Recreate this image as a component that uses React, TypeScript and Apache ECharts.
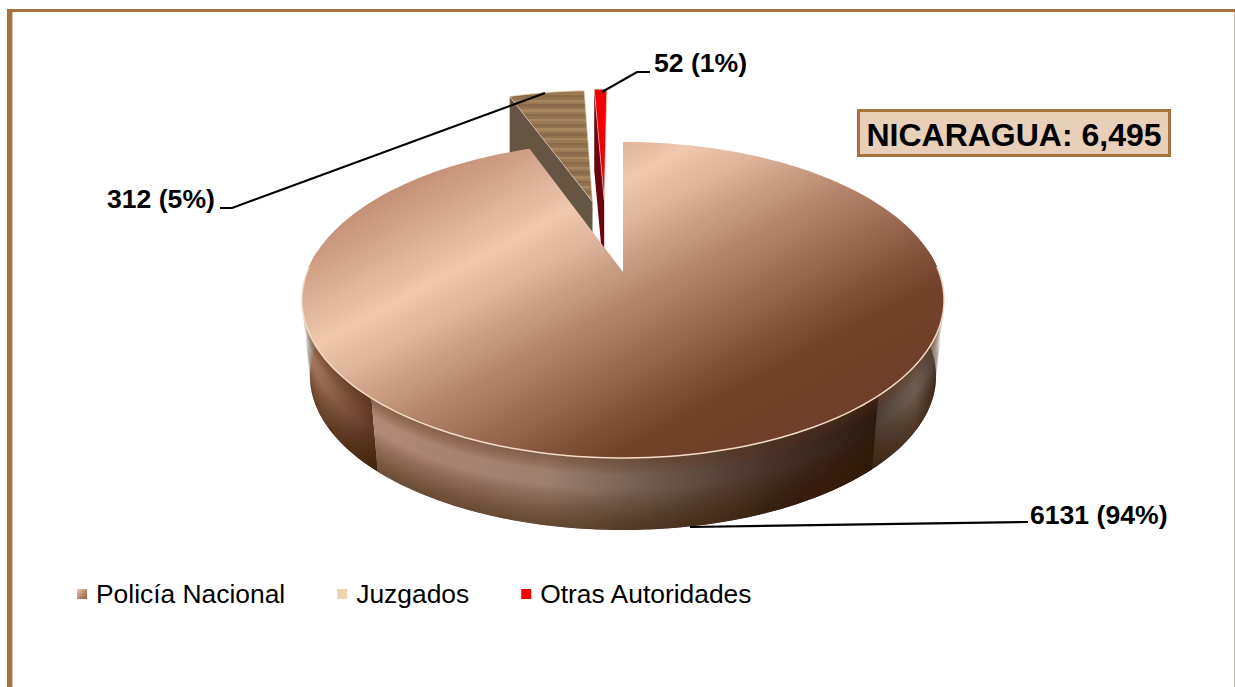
import React, { useEffect, useRef } from "react";
import * as echarts from "echarts";

const categories = ["Policía Nacional", "Juzgados", "Otras Autoridades"];
const values = [6131, 312, 52];
const percentLabels = ["94%", "5%", "1%"];
const totalLabel = "NICARAGUA";

// view geometry of the tilted pie
const CX = 623, CY = 300, PERSP = 0.177, SCALE_X = 316, SCALE_Y = 158, LIFT = 28;
const EXPLODE = [[0, 0], [-0.105, 0.5], [-0.065, 0.515]];
const BOTTOM_SCALE = 0.975, BOTTOM_SHIFT = 76;
const DEG = Math.PI / 180;

function project(u: number, v: number) {
  const w = 1 + PERSP * v;
  const X = (SCALE_X * u) / w;
  const Y = (SCALE_Y * v + LIFT) / w;
  return {
    top: [CX + X, CY - Y],
    bottom: [CX + X * BOTTOM_SCALE, CY - Y * BOTTOM_SCALE + BOTTOM_SHIFT],
  };
}
const rimPoint = (deg: number, off: number[]) =>
  project(Math.sin(deg * DEG) + off[0], Math.cos(deg * DEG) + off[1]);
function arc(a: number, b: number, off: number[], part: "top" | "bottom") {
  const n = Math.max(2, Math.ceil(Math.abs(b - a) / 1.5));
  const pts: number[][] = [];
  for (let i = 0; i <= n; i++) pts.push(rimPoint(a + ((b - a) * i) / n, off)[part]);
  return pts;
}
function spans() {
  const total = values.reduce((s, x) => s + x, 0);
  let acc = 0;
  return values.map((x) => {
    const s = [(acc / total) * 360, ((acc + x) / total) * 360];
    acc += x;
    return s;
  });
}
const G = echarts.graphic;
const linear = (x: number, y: number, x2: number, y2: number, stops: [number, string][]) =>
  new G.LinearGradient(x, y, x2, y2, stops.map(([offset, color]) => ({ offset, color })), true);

function woodStops(): [number, string][] {
  const out: [number, string][] = [];
  const tones = ["#a8865f", "#93734f", "#ad8d66", "#8a6a48", "#a3815b", "#9a7a54", "#b09069"];
  const n = 48;
  for (let i = 0; i < n; i++) {
    const c = tones[(i * 5 + (i >> 2)) % tones.length];
    out.push([i / n, c], [(i + 1) / n, c]);
  }
  return out;
}

function renderMain(_: any, __: any) {
  const [a, b] = spans()[0];
  const off = EXPLODE[0];
  const apex = project(off[0], off[1]).top;
  const wall = (from: number, to: number, fill: any) => ({
    type: "polygon",
    silent: true,
    shape: { points: [...arc(from, to, off, "top"), ...arc(to, from, off, "bottom")] },
    style: { fill },
  });
  const children: any[] = [
    wall(82, 137, linear(860, 0, 945, 0, [[0, "#4a3a2f"], [0.2, "#4f4036"], [0.65, "#6d5d52"], [1, "#3f2f25"]])),
    wall(224, 278, linear(300, 0, 378, 0, [[0, "#b08268"], [0.55, "#80553e"], [1, "#583423"]])),
    wall(135, 224, linear(372, 0, 878, 0, [
      [0, "#b08a76"], [0.12, "#a88472"], [0.35, "#9c7f6e"], [0.55, "#6f5c4f"], [0.78, "#47332a"], [1, "#2c1a10"],
    ])),
  ];
  // shading that follows the depth of the wall: nested layers, so no seams appear
  const tp = arc(82, 278, off, "top");
  const bt = arc(82, 278, off, "bottom");
  const mix = (k: number) =>
    tp.map((pt, j) => [pt[0] + (bt[j][0] - pt[0]) * k, pt[1] + (bt[j][1] - pt[1]) * k]);
  for (let i = 0; i < 18; i++) {
    children.push({
      type: "polygon",
      silent: true,
      shape: { points: [...mix(0.45 + i * 0.03), ...[...bt].reverse()] },
      style: { fill: "rgba(48,26,14,0.035)" },
    });
  }
  for (let i = 0; i < 7; i++) {
    children.push({
      type: "polygon",
      silent: true,
      shape: { points: [...tp, ...mix(0.04 + i * 0.03).reverse()] },
      style: { fill: "rgba(105,58,32,0.07)" },
    });
  }
  children.push({
    type: "polygon",
    silent: true,
    shape: { points: [apex, ...arc(a, b, off, "top")] },
    style: {
      fill: linear(506, 105, 727, 521, [
        [0, "#bc8468"], [0.17, "#dcb096"], [0.26, "#efc8ae"], [0.34, "#dfb49a"], [0.49, "#b5866c"], [0.76, "#74412a"], [1, "#6e3e28"],
      ]),
    },
  });
  children.push({
    type: "polyline",
    silent: true,
    shape: { points: arc(88, 272, off, "top") },
    style: { stroke: "#f4dcc6", lineWidth: 1.5, fill: "none" },
  });
  return { type: "group", children };
}

function renderWedge(i: number, faceFill: any, wallFill: string) {
  const [a, b] = spans()[i];
  const off = EXPLODE[i];
  const apex = project(off[0], off[1]);
  const rimA = rimPoint(a, off);
  return {
    type: "group",
    children: [
      {
        type: "polygon",
        silent: true,
        shape: {
          points: [rimA.top, apex.top, [apex.top[0], apex.bottom[1]], [rimA.top[0], rimA.bottom[1]]],
        },
        style: { fill: wallFill },
      },
      {
        type: "polygon",
        silent: true,
        shape: { points: [apex.top, ...arc(a, b, off, "top")] },
        style: { fill: faceFill, stroke: "#e9dcc8", lineWidth: 0.6 },
      },
    ],
  };
}

const label = (i: number) => `${values[i]} (${percentLabels[i]})`;
const labelText = (i: number, x: number, y: number) => ({
  type: "text",
  x,
  y,
  style: {
    text: label(i),
    font: 'bold 26.6px "Liberation Sans", Arial, sans-serif',
    fill: "#000",
    textVerticalAlign: "middle",
  },
});
const leader = (points: number[][]) => ({
  type: "polyline",
  shape: { points },
  style: { stroke: "#000", lineWidth: 2.2, fill: "none" },
});

export default function App() {
  const ref = useRef<HTMLDivElement>(null);
  useEffect(() => {
    if (!ref.current) return;
    const chart = echarts.init(ref.current, null, { renderer: "svg" });
    const total = values.reduce((s, x) => s + x, 0);
    chart.setOption({
      animation: false,
      backgroundColor: "#ffffff",
      legend: {
        left: 77,
        top: 581,
        padding: 0,
        itemWidth: 10,
        itemHeight: 10,
        itemGap: 52,
        icon: "rect",
        textStyle: {
          fontFamily: '"Liberation Sans", Arial, sans-serif',
          fontSize: 26.4,
          color: "#000",
          padding: [0, 0, 0, 4],
        },
        data: [
          { name: categories[0], itemStyle: { color: new G.LinearGradient(0, 0, 1, 1, [{ offset: 0, color: "#ecc8b0" }, { offset: 1, color: "#8a5a40" }]) } },
          { name: categories[1], itemStyle: { color: "#efd2ae" } },
          { name: categories[2], itemStyle: { color: "#ff0000" } },
        ],
      },
      series: [
        {
          type: "custom", name: categories[1], coordinateSystem: "none", z: 2, silent: true,
          data: [values[1]],
          renderItem: () => renderWedge(1, linear(0, 90, 0, 205, woodStops()), "#665543"),
        },
        {
          type: "custom", name: categories[2], coordinateSystem: "none", z: 3, silent: true,
          data: [values[2]],
          renderItem: () => renderWedge(2, "#f20006", "#6a0410"),
        },
        {
          type: "custom", name: categories[0], coordinateSystem: "none", z: 4, silent: true,
          data: [values[0]],
          renderItem: renderMain,
        },
      ],
      graphic: [
        { type: "rect", z: 1, shape: { x: 7, y: 9, width: 1228, height: 3 }, style: { fill: "#a6723f" } },
        { type: "rect", z: 1, shape: { x: 7, y: 9, width: 5, height: 678 }, style: { fill: "#a6723f" } },
        { type: "rect", z: 1, shape: { x: 12, y: 12, width: 1, height: 675 }, style: { fill: "#dcc8b4" } },
        { type: "rect", z: 1, shape: { x: 1234, y: 12, width: 1, height: 675 }, style: { fill: "#c8b8a8" } },
        {
          type: "rect", z: 20,
          shape: { x: 858.5, y: 110.5, width: 311, height: 45 },
          style: { fill: "#e8cfb8", stroke: "#a6723f", lineWidth: 3 },
        },
        {
          type: "text", z: 21, x: 1014, y: 135,
          style: {
            text: `${totalLabel}: ${total.toLocaleString("en-US")}`,
            font: 'bold 32px "Liberation Sans", Arial, sans-serif',
            fill: "#000",
            textAlign: "center",
            textVerticalAlign: "middle",
          },
        },
        { ...leader([[220, 208], [232, 208], [545, 93]]), z: 20 },
        { ...leader([[602, 92], [637, 72], [650, 72]]), z: 20 },
        { ...leader([[690, 527], [1028, 522]]), z: 20 },
        { ...labelText(1, 107, 199), z: 21 },
        { ...labelText(2, 654, 63), z: 21 },
        { ...labelText(0, 1030, 515), z: 21 },
      ],
    });
    return () => chart.dispose();
  }, []);
  return <div ref={ref} style={{ position: "fixed", left: 0, top: 0, width: 1235, height: 687 }} />;
}
